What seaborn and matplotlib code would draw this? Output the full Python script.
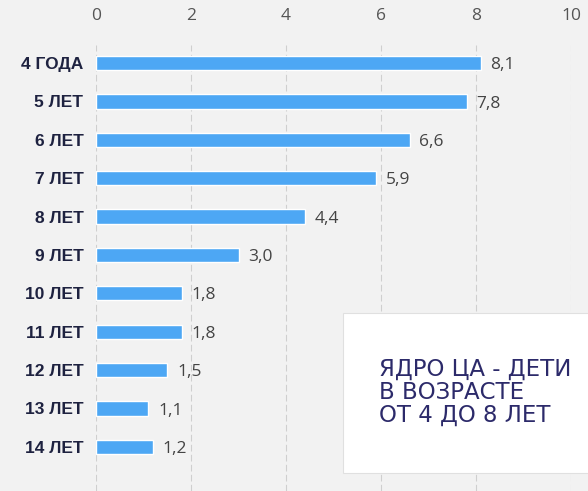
import numpy as np
import pandas as pd
import seaborn as sns
import matplotlib.pyplot as plt
from matplotlib.patches import Rectangle

ages = ['4 ГОДА', '5 ЛЕТ', '6 ЛЕТ', '7 ЛЕТ', '8 ЛЕТ', '9 ЛЕТ',
        '10 ЛЕТ', '11 ЛЕТ', '12 ЛЕТ', '13 ЛЕТ', '14 ЛЕТ']
shares = [8.1, 7.8, 6.6, 5.9, 4.4, 3.0, 1.8, 1.8, 1.5, 1.1, 1.2]
x_ticks = [0, 2, 4, 6, 8, 10]
note = 'ЯДРО ЦА - ДЕТИ\nВ ВОЗРАСТЕ\nОТ 4 ДО 8 ЛЕТ'

df = pd.DataFrame({'age': ages, 'share': shares})

sns.set_style('white')
plt.rcParams['font.family'] = ['Liberation Sans', 'DejaVu Sans']

fig = plt.figure(figsize=(5.88, 4.91), dpi=100)
fig.patch.set_facecolor('#f2f2f2')
ax = fig.add_axes([96 / 588, 0, (571 - 96) / 588, 1 - 45 / 491])
ax.set_facecolor('#f2f2f2')

sns.barplot(data=df, x='share', y='age', orient='h', color='#4da7f4',
            saturation=1, width=0.37, ax=ax)

ax.set_xlim(0, 10)
ax.set_ylim(11.15, -0.47)
ax.set_xticks(x_ticks)
ax.xaxis.tick_top()
ax.tick_params(axis='x', length=0, pad=15, labelcolor='#555555')
for lab in ax.get_xticklabels():
    lab.set_fontsize(12.5)
    lab.set_family(['Open Sans', 'DejaVu Sans'])
ax.tick_params(axis='y', length=0, pad=9)
for lab in ax.get_yticklabels():
    lab.set_fontweight('bold')
    lab.set_fontsize(12.5)
    lab.set_color('#1e2240')
ax.set_xlabel('')
ax.set_ylabel('')
for s in ax.spines.values():
    s.set_visible(False)
for t in x_ticks:
    ax.axvline(t, color='#cfcfcf', lw=0.8, ls=(0, (6, 3)), zorder=0)

for i, v in enumerate(shares):
    ax.annotate(f'{v:.1f}'.replace('.', ','), (v, i), xytext=(7, -1.5),
                textcoords='offset points', va='center', ha='left',
                fontsize=12.5, color='#444444', family=['Open Sans', 'DejaVu Sans'])

# white note box at the bottom right
fig.patches.append(Rectangle((343 / 588, 1 - 473 / 491), 260 / 588, 160 / 491,
                             transform=fig.transFigure, facecolor='white',
                             edgecolor='#e0e0e0', lw=0.8, zorder=5))
fig.text(379 / 588, 1 - 358 / 491, note, ha='left', va='top', fontsize=16.5,
         family='DejaVu Sans', color='#2c2a6a', linespacing=0.98, zorder=6)

fig.savefig('out.png', dpi=100, facecolor=fig.get_facecolor())
